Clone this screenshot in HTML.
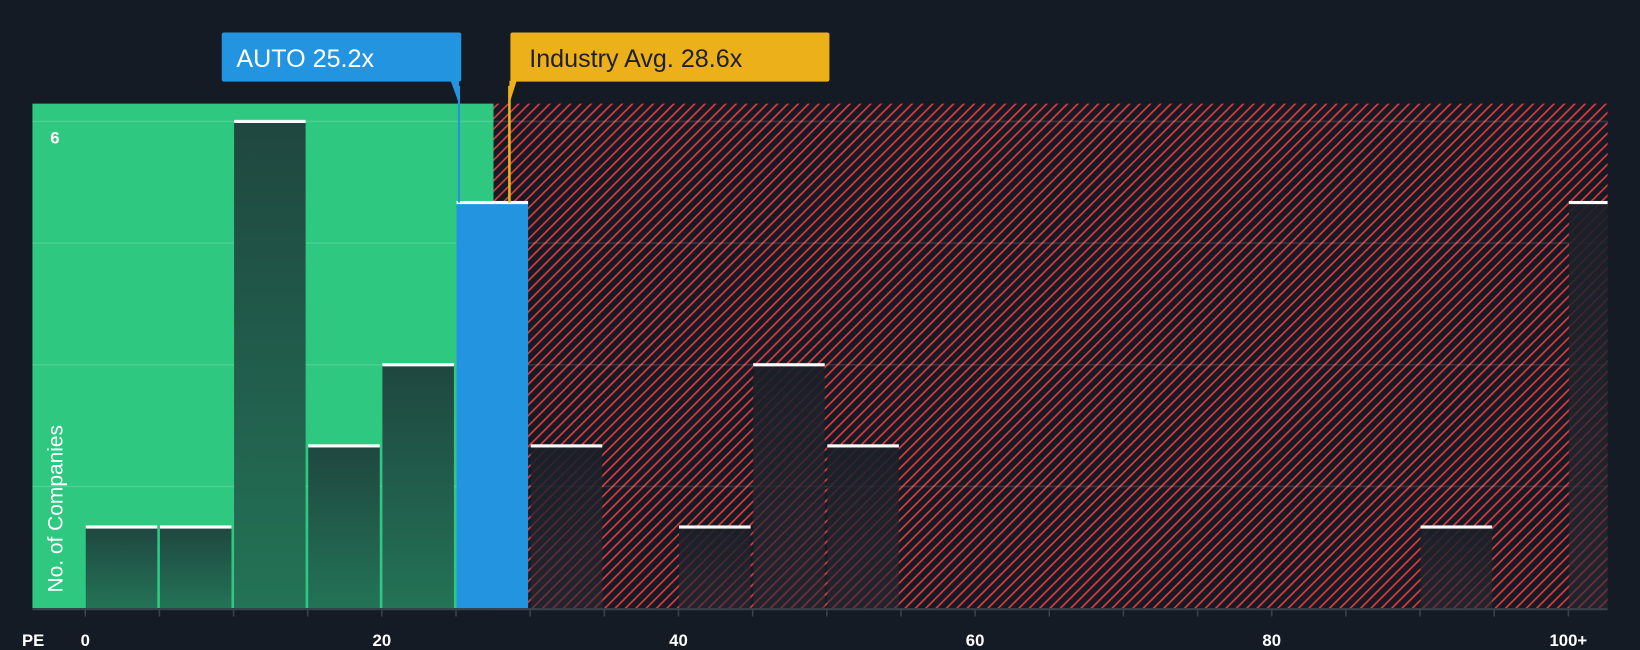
<!DOCTYPE html>
<html><head><meta charset="utf-8"><style>
html,body{margin:0;padding:0;background:#151b24;}
svg{display:block;font-family:"Liberation Sans",sans-serif;}
.nar{font-family:"Liberation Sans Narrow","Liberation Sans",sans-serif;}
</style></head><body>
<svg id="chart" width="1640" height="650" viewBox="0 0 1568 621" preserveAspectRatio="none" xmlns="http://www.w3.org/2000/svg">
<defs>
<pattern id="hatch" patternUnits="userSpaceOnUse" width="7" height="7" patternTransform="rotate(45)">
<rect width="7" height="7" fill="#151b24"/>
<rect x="0" y="0" width="1.6" height="7" fill="#e0393e"/>
</pattern>
<linearGradient id="barg" x1="0" y1="0" x2="0" y2="1"><stop offset="0" stop-color="#1f4740"/><stop offset="1" stop-color="#237356"/></linearGradient>
<linearGradient id="barr" x1="0" y1="0" x2="0" y2="1"><stop offset="0" stop-color="#1a1f28" stop-opacity="0.92"/><stop offset="1" stop-color="#2a2a33" stop-opacity="0.6"/></linearGradient>
</defs>
<rect width="1568" height="621" fill="#151b24"/>
<g id="bg"></g>
<g id="grid"></g>
<g id="bars"></g>
<g id="axis"></g>
<g id="annot"></g>
</svg>
<script>
const binStarts = [0,5,10,15,20,25,30,35,40,45,50,55,60,65,70,75,80,85,90,95,100];
const counts    = [1,1,6,2,3,5,2,0,1,3,2,0,0,0,0,0,0,0,1,0,5];
const tickValues = [0,20,40,60,80,100];
const tickLabels = ["0","20","40","60","80","100+"];
const gridValues = [1.5,3,4.5,6];
const companyPE = 25.2;
const industryPE = 28.6;
const companyBin = 25;

const NS="http://www.w3.org/2000/svg";
const L=31,R=1537,T=99,B=581;
const xs=v=>81.5+v*14.18;
const ys=v=>B-v*77.5;
function mk(tag,attrs,parent){const e=document.createElementNS(NS,tag);for(const k in attrs)e.setAttribute(k,attrs[k]);parent.appendChild(e);return e;}
const bg=document.getElementById('bg'),grid=document.getElementById('grid'),bars=document.getElementById('bars'),axis=document.getElementById('axis'),annot=document.getElementById('annot');

const splitX=xs(27.6)-1;
let g=mk('rect',{x:L,y:T,width:splitX-L,height:B-T,fill:'#2ec880'},bg);


let h=mk('rect',{x:splitX,y:T,width:R-splitX,height:B-T,fill:'url(#hatch)'},bg);



gridValues.forEach(v=>{
  const l=mk('line',{x1:L,x2:R,y1:ys(v),y2:ys(v),stroke:'rgba(255,255,255,0.13)','stroke-width':1.5},grid);
  
  
});

binStarts.forEach((s,i)=>{
  const c=counts[i]; if(!c) return;
  const x0=xs(s)+0.5, x1=Math.min(xs(s+5)-2,R);
  const isCo=s===companyBin;
  const inGreen=xs(s+5)<=splitX+3;
  const fill=isCo?'#2394e0':(inGreen?'url(#barg)':'url(#barr)');
  const r=mk('rect',{x:x0,y:ys(c),width:x1-x0,height:B-ys(c),fill:fill},bars);
  
  
  const cap=mk('rect',{x:x0,y:ys(c)-1.5,width:x1-x0,height:3,fill:'#ffffff'},bars);
  
  
});

mk('line',{x1:L,x2:R,y1:B+1,y2:B+1,stroke:'#3a414c','stroke-width':2},axis);
for(let v=0;v<=100;v+=5){
  const t=mk('line',{x1:xs(v),x2:xs(v),y1:B,y2:B+8,stroke:'#3a414c','stroke-width':1.5},axis);
  
  
}
tickValues.forEach((v,i)=>{
  const t=mk('text',{x:xs(v),y:617,fill:'#ffffff','font-size':16,'font-weight':'bold','text-anchor':'middle'},axis);
  t.textContent=tickLabels[i];
  
  
});
let pe=mk('text',{x:21,y:617,fill:'#ffffff','font-size':16,'font-weight':'bold'},axis);pe.textContent='PE';


let yt=mk('text',{x:60,y:566,fill:'#ffffff','font-size':20,transform:'rotate(-90 60 566)'},axis);yt.textContent='No. of Companies';


let six=mk('text',{x:48,y:137,fill:'#ffffff','font-size':16,'font-weight':'bold'},axis);six.textContent='6';



const cx=xs(companyPE), ix=xs(industryPE);
mk('line',{x1:cx,x2:cx,y1:82,y2:ys(5),stroke:'#2394e0','stroke-width':2},annot);
mk('path',{d:`M${cx-8} 77 L${cx} 99 L${cx} 77 Z`,fill:'#2394e0'},annot);
let cb=mk('rect',{x:212,y:31,width:229,height:47,rx:2,fill:'#2394e0'},annot);


let ct=mk('text',{x:226,y:64,fill:'#ffffff','font-size':24,class:'nar'},annot);ct.textContent='AUTO 25.2x';


mk('line',{x1:ix,x2:ix,y1:82,y2:ys(5),stroke:'#ecb01a','stroke-width':2.5},annot);
mk('path',{d:`M${ix} 77 L${ix} 99 L${ix+7} 77 Z`,fill:'#ecb01a'},annot);
let ib=mk('rect',{x:488,y:31,width:305,height:47,rx:2,fill:'#ecb01a'},annot);


let it=mk('text',{x:506,y:64,fill:'#1c2129','font-size':24,class:'nar'},annot);it.textContent='Industry Avg. 28.6x';


</script>
</body></html>
